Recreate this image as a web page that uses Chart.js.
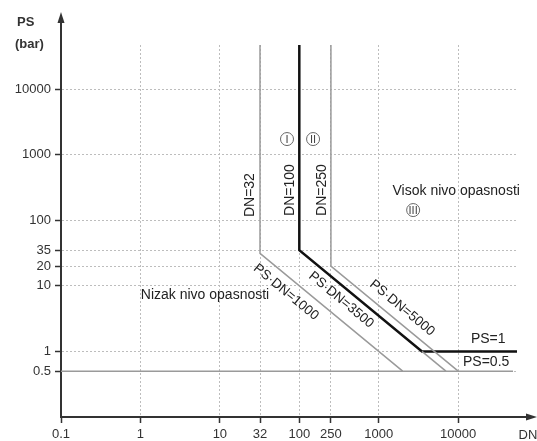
<!DOCTYPE html>
<html>
<head>
<meta charset="utf-8">
<script src="https://cdn.jsdelivr.net/npm/chart.js@4/dist/chart.umd.min.js"></script>
<style>
  html, body { margin: 0; padding: 0; background: #fff; }
  #wrap { width: 537px; height: 441px; }
</style>
</head>
<body>
<div id="wrap"><canvas id="pedChart"></canvas></div>
<script>
// tick values on both axes
const dnTicks = [0.1, 1, 10, 32, 100, 250, 1000, 10000]
const psTicks = [0.5, 1, 10, 20, 35, 100, 1000, 10000]

// limit lines (DN, PS)
const dn32X = [32, 32, 2000]
const dn32Y = [47000, 31.25, 0.5]
const dn100X = [100, 100, 3500, 55000]
const dn100Y = [47000, 35, 1, 1]
const ps3500X = [3500, 7000]
const ps3500Y = [1, 0.5]
const dn250X = [250, 250, 10000]
const dn250Y = [47000, 20, 0.5]
const ps05X = [0.1, 49000]
const ps05Y = [0.5, 0.5]

// text labels
const notes = [
    { text: 'DN=32', x: 24, y: 242, rot: 'v' },
    { text: 'DN=100', x: 76.6, y: 289, rot: 'v' },
    { text: 'DN=250', x: 194, y: 289, rot: 'v' },
    { text: 'Visok nivo opasnosti', x: 9440, y: 279 },
    { text: 'Nizak nivo opasnosti', x: 6.5, y: 7.2 },
    { text: 'PS·DN=1000', x: 68, y: 8.0, rot: 's' },
    { text: 'PS·DN=3500', x: 336, y: 6.1, rot: 's' },
    { text: 'PS·DN=5000', x: 1970, y: 4.6, rot: 's' },
    { text: 'PS=1', x: 23900, y: 1.55 },
    { text: 'PS=0.5', x: 22500, y: 0.69 }
]
const circled = [
    { text: 'I', x: 70, y: 1730 },
    { text: 'II', x: 149, y: 1730 },
    { text: 'III', x: 2710, y: 143 }
]

const toPoints = (xs, ys) => xs.map((x, i) => ({ x: x, y: ys[i] }))
const GRAY = '#9a9a9a'
const FONT = '"Liberation Sans", Arial, sans-serif'

const extras = {
    id: 'extras',
    afterDraw(chart) {
        const c = chart.ctx
        const xs = chart.scales.x
        const ys = chart.scales.y
        const area = chart.chartArea
        c.save()
        // axis arrows
        c.strokeStyle = '#333'
        c.fillStyle = '#333'
        c.lineWidth = 2
        c.beginPath()
        c.moveTo(area.left, area.top)
        c.lineTo(area.left, 18)
        c.moveTo(area.right, area.bottom)
        c.lineTo(532, area.bottom)
        c.stroke()
        c.beginPath()
        c.moveTo(area.left, 12)
        c.lineTo(area.left - 3.5, 23)
        c.lineTo(area.left + 3.5, 23)
        c.closePath()
        c.fill()
        c.beginPath()
        c.moveTo(537, area.bottom)
        c.lineTo(526, area.bottom - 3.5)
        c.lineTo(526, area.bottom + 3.5)
        c.closePath()
        c.fill()

        // axis titles
        c.font = 'bold 13px ' + FONT
        c.textAlign = 'left'
        c.textBaseline = 'middle'
        c.fillText('PS', 17, 22)
        c.fillText('(bar)', 15, 44)
        c.font = '13px ' + FONT
        c.textAlign = 'center'
        c.fillText('DN', 528, 435)

        // slope angle of the PS·DN lines
        const ang = Math.atan2(ys.getPixelForValue(1) - ys.getPixelForValue(10),
                               xs.getPixelForValue(10) - xs.getPixelForValue(1))

        c.fillStyle = '#222'
        notes.forEach(n => {
            const px = xs.getPixelForValue(n.x)
            const py = ys.getPixelForValue(n.y)
            c.save()
            c.translate(px, py)
            c.font = (n.rot === 's' ? '13.5px ' : '14px ') + FONT
            if (n.rot === 'v') c.rotate(-Math.PI / 2)
            if (n.rot === 's') c.rotate(ang)
            c.textAlign = 'center'
            c.textBaseline = 'middle'
            c.fillText(n.text, 0, 0)
            c.restore()
        })

        c.strokeStyle = '#666'
        c.lineWidth = 1
        c.font = '11px ' + FONT
        c.fillStyle = '#444'
        circled.forEach(n => {
            const px = xs.getPixelForValue(n.x)
            const py = ys.getPixelForValue(n.y)
            c.beginPath()
            c.arc(px, py, 6.5, 0, Math.PI * 2)
            c.stroke()
            c.fillText(n.text, px, py + 0.5)
        })
        c.restore()
    }
}

const lineSet = (xs, ys, color, width) => ({
    data: toPoints(xs, ys),
    borderColor: color,
    borderWidth: width,
    pointRadius: 0,
    fill: false,
    tension: 0,
    clip: false
})

const gridOpts = {
    color: '#bdbdbd',
    lineWidth: 1,
    tickBorderDash: [],
    tickColor: '#333',
    tickLength: 6,
    tickWidth: 1.5
}

const chart = new Chart(document.getElementById('pedChart'), {
    type: 'line',
    data: {
        datasets: [
            lineSet(ps05X, ps05Y, GRAY, 1.5),
            lineSet(dn32X, dn32Y, GRAY, 1.5),
            lineSet(ps3500X, ps3500Y, GRAY, 1.5),
            lineSet(dn250X, dn250Y, GRAY, 1.5),
            lineSet(dn100X, dn100Y, '#111', 2.5)
        ]
    },
    plugins: [extras],
    options: {
        responsive: true,
        maintainAspectRatio: false,
        animation: false,
        layout: { padding: { top: 45, right: 20, left: 0, bottom: 0 } },
        plugins: {
            legend: { display: false },
            tooltip: { enabled: false }
        },
        scales: {
            x: {
                type: 'logarithmic',
                min: 0.1,
                max: 55000,
                afterFit: s => { s.height = 24 },
                afterBuildTicks: s => { s.ticks = dnTicks.map(v => ({ value: v })) },
                border: { color: '#333', width: 2, dash: [2, 2] },
                grid: gridOpts,
                ticks: {
                    autoSkip: false,
                    maxRotation: 0,
                    padding: 4,
                    color: '#333',
                    font: { family: FONT, size: 13 },
                    callback: v => String(v)
                }
            },
            y: {
                type: 'logarithmic',
                min: 0.1,
                max: 47000,
                afterFit: s => { s.width = 61 },
                afterBuildTicks: s => { s.ticks = psTicks.map(v => ({ value: v })) },
                border: { color: '#333', width: 2, dash: [2, 2] },
                grid: gridOpts,
                ticks: {
                    autoSkip: false,
                    padding: 4,
                    color: '#333',
                    font: { family: FONT, size: 13 },
                    callback: v => String(v)
                }
            }
        }
    }
});
</script>
</body>
</html>
